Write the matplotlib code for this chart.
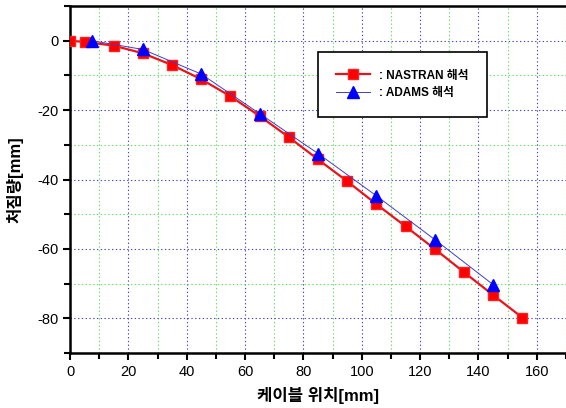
import matplotlib.pyplot as plt
from matplotlib.ticker import MultipleLocator

plt.rcParams['font.family'] = ['Liberation Sans', 'Noto Sans CJK KR', 'DejaVu Sans']
plt.rcParams['axes.unicode_minus'] = False

# NASTRAN results
nas_x = [0, 5, 15, 25, 35, 45, 55, 65, 75, 85, 95, 105, 115, 125, 135, 145, 155]
nas_y = [0, -0.3, -1.4, -3.6, -7.0, -11.1, -16.0, -21.7, -27.8, -34.2, -40.5,
         -47.1, -53.5, -60.0, -66.7, -73.3, -79.8]

# ADAMS results
adm_x = [7.7, 25, 45, 65, 85, 105, 125, 145]
adm_y = [0, -2.5, -9.6, -21.0, -32.5, -44.7, -57.3, -70.3]

fig = plt.figure(figsize=(5.66, 4.08), dpi=100)
ax = fig.add_axes([0.1237, 0.135, 0.8763, 0.85])

ax.plot(nas_x, nas_y, color='#e8141c', lw=1.6, marker='s', ms=6.5,
        mfc='#ff0000', mec='#ff2020', label=': NASTRAN 해석', zorder=3)
ax.plot(adm_x, adm_y, color='#4040c0', lw=0.7, marker='^', ms=8,
        mfc='#0000ff', mec='#0000ff', label=': ADAMS 해석', zorder=4)

ax.set_xlim(0, 170)
ax.set_ylim(-90, 10)
ax.xaxis.set_major_locator(MultipleLocator(20))
ax.xaxis.set_minor_locator(MultipleLocator(10))
ax.yaxis.set_major_locator(MultipleLocator(20))
ax.yaxis.set_minor_locator(MultipleLocator(10))

ax.grid(which='major', color='#4848b0', ls=(0, (1.2, 2.2)), lw=0.8)
ax.grid(which='minor', color='#60e060', ls=(0, (1.2, 2.2)), lw=0.8)
ax.set_axisbelow(True)

ax.tick_params(which='both', direction='out', width=1.5, labelsize=10.5)
ax.tick_params(which='major', length=5)
ax.tick_params(which='minor', length=4)
for s in ['left', 'bottom', 'top']:
    ax.spines[s].set_linewidth(1.8)
ax.spines['right'].set_visible(False)

ax.set_xlabel('케이블 위치[mm]', fontsize=12, fontweight='bold', labelpad=6)
ax.set_ylabel('처짐량[mm]', fontsize=12, fontweight='bold', labelpad=10)

leg = ax.legend(loc='upper left', bbox_to_anchor=(0.5, 0.868), fontsize=8.5,
                fancybox=False, edgecolor='black', framealpha=1,
                handlelength=2.9, handletextpad=0.8, borderpad=1.5,
                labelspacing=0.45, borderaxespad=0)
leg.get_frame().set_linewidth(1.2)
for t in leg.get_texts():
    t.set_fontweight('bold')

fig.savefig('out.png', dpi=100)
